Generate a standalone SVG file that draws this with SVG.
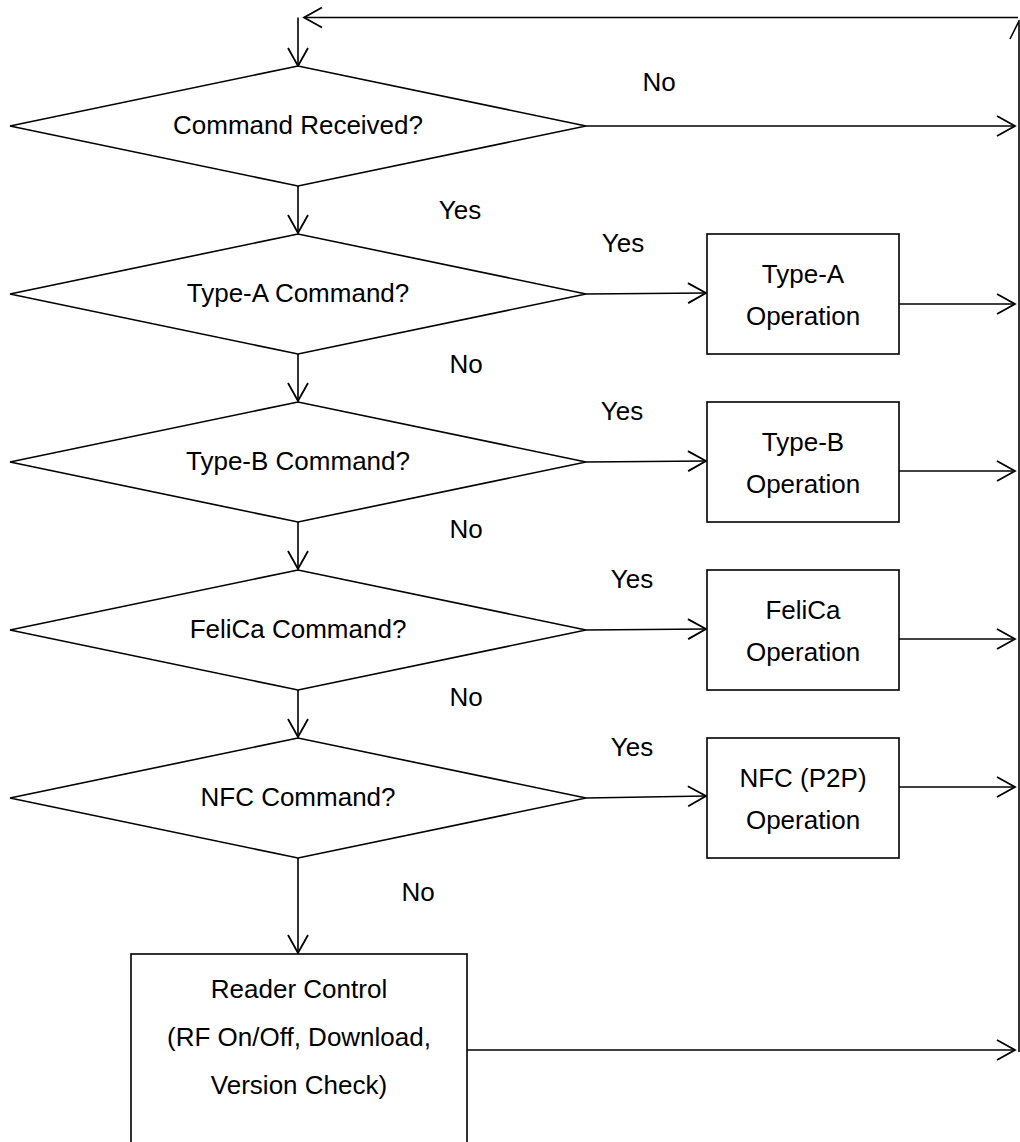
<svg xmlns="http://www.w3.org/2000/svg" width="1020" height="1142" viewBox="0 0 1020 1142">
<style>
.s{fill:#fff;stroke:#000;stroke-width:1.6}
.l{fill:none;stroke:#000;stroke-width:1.6}
text{font-family:"Liberation Sans",Arial,sans-serif;font-size:26px;fill:#000;text-anchor:middle}
</style>
<defs>
<marker id="a" markerUnits="userSpaceOnUse" viewBox="-20 -12 24 24" refX="0" refY="0" markerWidth="24" markerHeight="24" orient="auto" overflow="visible">
<path d="M-18,-10 L0,0 L-18,10" fill="none" stroke="#000" stroke-width="1.8"/>
</marker>
</defs>
<rect width="1020" height="1142" fill="#fff"/>
<g id="connectors">
<path class="l" d="M1019,1052 V20 M1019,21 L1010,39"/>
<path class="l" d="M1018,17.5 H304" marker-end="url(#a)"/>
<path class="l" d="M298,17.5 V66" marker-end="url(#a)"/>
<path class="l" d="M586,126 H1015" marker-end="url(#a)"/>
<path class="l" d="M298,186 V233" marker-end="url(#a)"/>
<path class="l" d="M298,354 V401" marker-end="url(#a)"/>
<path class="l" d="M298,522 V569" marker-end="url(#a)"/>
<path class="l" d="M298,690 V737" marker-end="url(#a)"/>
<path class="l" d="M298,858 V953" marker-end="url(#a)"/>
<path class="l" d="M586,294 L706,293" marker-end="url(#a)"/>
<path class="l" d="M586,462 L706,461" marker-end="url(#a)"/>
<path class="l" d="M586,630 L706,629" marker-end="url(#a)"/>
<path class="l" d="M586,798 L706,796" marker-end="url(#a)"/>
<path class="l" d="M899,304 H1015" marker-end="url(#a)"/>
<path class="l" d="M899,471 H1015" marker-end="url(#a)"/>
<path class="l" d="M899,639 H1015" marker-end="url(#a)"/>
<path class="l" d="M899,787 H1015" marker-end="url(#a)"/>
<path class="l" d="M467,1050 H1015" marker-end="url(#a)"/>
<text x="659" y="91">No</text>
<text x="460" y="219">Yes</text>
<text x="623" y="252">Yes</text>
<text x="466" y="373">No</text>
<text x="622" y="420">Yes</text>
<text x="466" y="538">No</text>
<text x="632" y="588">Yes</text>
<text x="466" y="706">No</text>
<text x="632" y="756">Yes</text>
<text x="418" y="901">No</text>
</g>
<g id="d1"><path class="s" d="M10,126 L298,66 L586,126 L298,186 Z"/><text x="298" y="134">Command Received?</text></g>
<g id="d2"><path class="s" d="M10,294 L298,234 L586,294 L298,354 Z"/><text x="298" y="302">Type-A Command?</text></g>
<g id="d3"><path class="s" d="M10,462 L298,402 L586,462 L298,522 Z"/><text x="298" y="470">Type-B Command?</text></g>
<g id="d4"><path class="s" d="M10,630 L298,570 L586,630 L298,690 Z"/><text x="298" y="638">FeliCa Command?</text></g>
<g id="d5"><path class="s" d="M10,798 L298,738 L586,798 L298,858 Z"/><text x="298" y="806">NFC Command?</text></g>
<g id="b1"><rect class="s" x="707" y="234" width="192" height="120"/><text x="803" y="283">Type-A</text><text x="803" y="325">Operation</text></g>
<g id="b2"><rect class="s" x="707" y="402" width="192" height="120"/><text x="803" y="451">Type-B</text><text x="803" y="493">Operation</text></g>
<g id="b3"><rect class="s" x="707" y="570" width="192" height="120"/><text x="803" y="619">FeliCa</text><text x="803" y="661">Operation</text></g>
<g id="b4"><rect class="s" x="707" y="738" width="192" height="120"/><text x="803" y="787">NFC (P2P)</text><text x="803" y="829">Operation</text></g>
<g id="b5"><rect class="s" x="131" y="954" width="336" height="200"/><text x="299" y="998">Reader Control</text><text x="299" y="1046">(RF On/Off, Download,</text><text x="299" y="1094">Version Check)</text></g>
</svg>
